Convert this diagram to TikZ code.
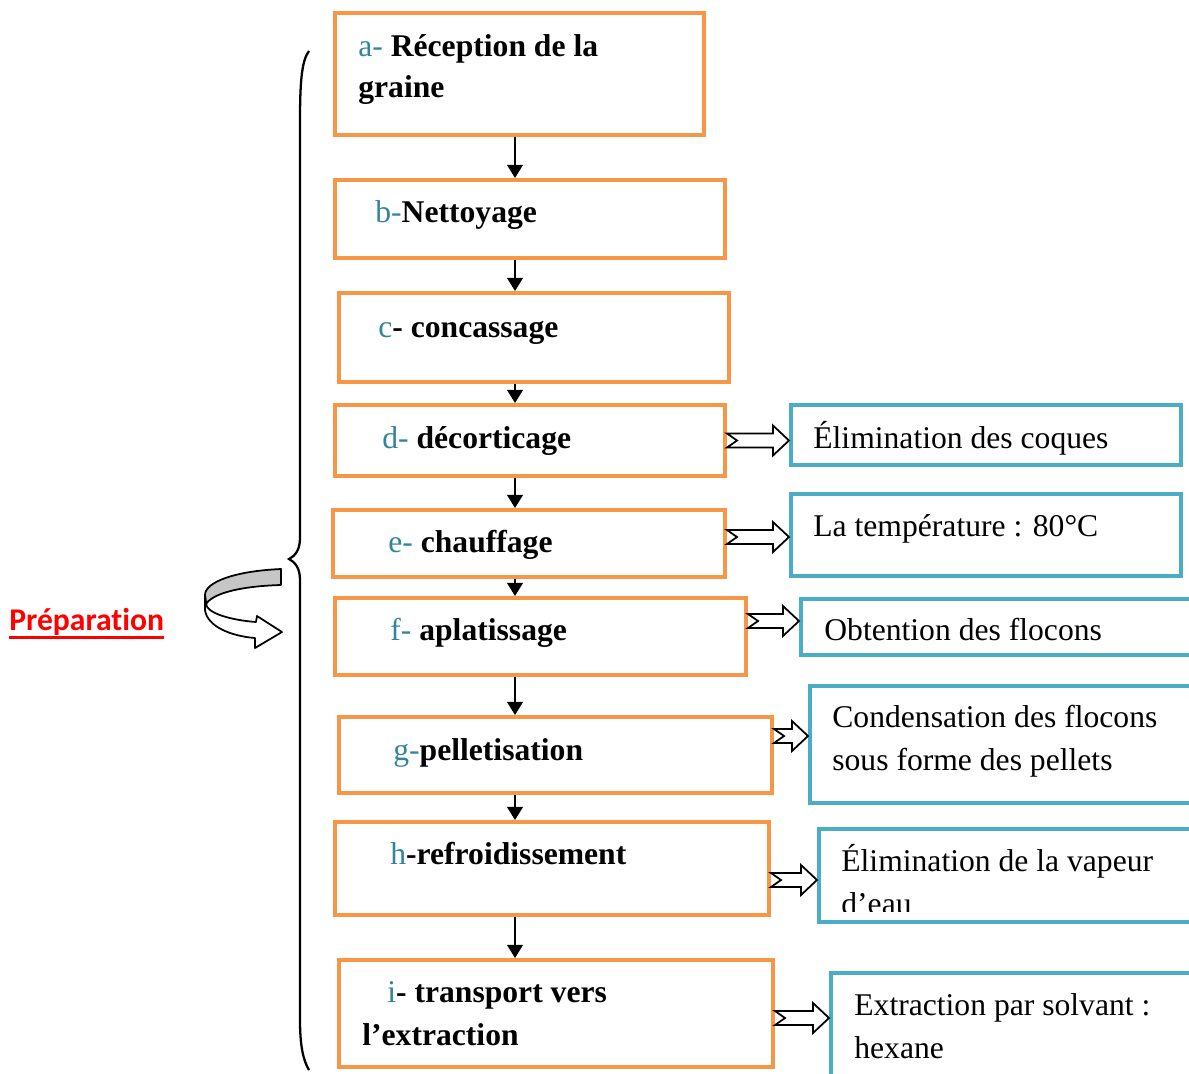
\documentclass[tikz,border=0pt]{standalone}
\usepackage{fontspec}
\setmainfont{Liberation Serif}
\newfontfamily\calibfont[Ligatures={NoCommon,NoContextual}]{Carlito}
\usetikzlibrary{calc,fit,arrows.meta}
\definecolor{boxorange}{HTML}{F79646}
\definecolor{boxblue}{HTML}{4BACC6}
\definecolor{steptl}{HTML}{31849B}
\newcommand{\stepid}[1]{\textcolor{steptl}{#1}}
\tikzset{
	etape/.style={draw=boxorange,line width=2.3pt,inner sep=0pt},
	remarque/.style={draw=boxblue,line width=2.3pt,inner sep=0pt},
	txt/.style={inner sep=0pt,anchor=base west,font=\fontsize{18}{24}\selectfont},
	fleche/.style={line width=1.1pt,-{Triangle[width=9pt,length=7.5pt]}},
	barrow/.style={line width=1pt,fill=white,line join=miter}
}
% block arrow with notched tail: from box #1 to box #2, shifted by #3
\newcommand{\blockarrow}[3]{%
	\coordinate (s) at ($(#1.east)+(0,#3)$);
	\coordinate (t) at (s -| #2.west);
	\draw[barrow] ($(s)+(0,-7)$) -- ($(t)+(-16,-7)$) -- ($(t)+(-16,-15)$) -- (t)
		-- ($(t)+(-16,15)$) -- ($(t)+(-16,7)$) -- ($(s)+(0,7)$) -- ($(s)+(10,0)$) -- cycle;
}

\begin{document}
\begin{tikzpicture}[x=0.02cm,y=-0.02cm]
\clip (0,0) rectangle (1189,1073);
\coordinate (axe) at (515,0);
% etapes
\node[etape, fit={(335,13) (704,135)}] (a) {};
\node[etape, fit={(335,180) (725,258)}] (b) {};
\node[etape, fit={(339,293) (729,382)}] (c) {};
\node[etape, fit={(335,405) (725,476)}] (d) {};
\node[etape, fit={(333,510) (725,577)}] (e) {};
\node[etape, fit={(335,598) (746,675)}] (f) {};
\node[etape, fit={(339,717) (772,793)}] (g) {};
\node[etape, fit={(335,822) (769,915)}] (h) {};
\node[etape, fit={(339,960) (773,1067)}] (i) {};
% remarques
\node[remarque, fit={(791,405) (1181,465)}] (dd) {};
\node[remarque, fit={(791,494) (1181,576)}] (ee) {};
\node[remarque, fit={(801,599) (1210,655)}] (ff) {};
\node[remarque, fit={(810,686) (1210,803)}] (gg) {};
\node[remarque, fit={(819,829) (1210,922)}] (hh) {};
\node[remarque, fit={(831,973) (1210,1100)}] (ii) {};
% textes
\node[txt] (ta1) at (358,56) {\stepid{a-} \textbf{Réception de la}};
\node[txt] (ta2) at (358,97) {\textbf{graine}};
\node[txt] (tb) at (375,222) {\stepid{b-}\textbf{Nettoyage}};
\node[txt] (tc) at (378,337) {\stepid{c}\textbf{- concassage}};
\node[txt] (td) at (382,448) {\stepid{d-} \textbf{décorticage}};
\node[txt] (te) at (388,552) {\stepid{e-} \textbf{chauffage}};
\node[txt] (tf) at (390,640) {\stepid{f-} \textbf{aplatissage}};
\node[txt] (tg) at (393,760) {\stepid{g-}\textbf{pelletisation}};
\node[txt] (th) at (390,864) {\stepid{h}\textbf{-refroidissement}};
\node[txt] (ti1) at (387,1002) {\stepid{i}\textbf{- transport vers}};
\node[txt] (ti2) at (362,1045) {\textbf{l’extraction}};
\node[txt] (tdd) at (813,448) {Élimination des coques};
\node[txt] (tee) at (813,536) {La température : 80°C};
\node[txt] (tff) at (824,640) {Obtention des flocons};
\node[txt] (tgg1) at (832,727) {Condensation des flocons};
\node[txt] (tgg2) at (832,770) {sous forme des pellets};
\node[txt] (thh1) at (841,871) {Élimination de la vapeur};
\begin{scope}
\clip (800,829) rectangle (1200,911);
\node[txt] (thh2) at (841,914) {d’eau};
\end{scope}
\node[txt] (tii1) at (854,1015) {Extraction par solvant :};
\node[txt] (tii2) at (854,1058) {hexane};
% fleches
\foreach \u/\v in {a/b,b/c,c/d,d/e,e/f,f/g,g/h,h/i}
	\draw[fleche] (\u.south -| axe) -- (\v.north -| axe);
\blockarrow{d}{dd}{0}
\blockarrow{e}{ee}{-6.5}
\blockarrow{f}{ff}{-15.5}
\blockarrow{g}{gg}{-19}
\blockarrow{h}{hh}{11.5}
\blockarrow{i}{ii}{4.5}
% accolade
\draw[line width=1.3pt] (309,51) .. controls (302,60) and (300,80) .. (300,120) -- (300,538)
	.. controls (300,550) and (295,556) .. (289,559) .. controls (295,562) and (300,568) .. (300,580)
	-- (300,1020) .. controls (300,1045) and (303,1060) .. (309,1070);
% fleche circulaire
\filldraw[fill=gray!45, line width=1pt, line join=round] (281,569) .. controls (235,571) and (205,582) .. (205,595)
	-- (206,604) .. controls (214,592) and (245,586) .. (281,585) -- cycle;
\filldraw[fill=white, line width=1pt, line join=round] (205,595) -- (205,610) .. controls (207,626) and (230,636) .. (255,638)
	-- (255,648) -- (282,632) -- (257,616) -- (256,622) .. controls (230,620) and (207,613) .. (206,604) -- cycle;
\node[font=\calibfont\bfseries\fontsize{18}{22}\selectfont, text=red, anchor=base west, inner sep=0pt] (prep) at (9,630) {Préparation};
\draw[red, line width=1.7pt] ($(prep.base west)+(0,7)$) -- ($(prep.base east)+(0,7)$);
\end{tikzpicture}
\end{document}
